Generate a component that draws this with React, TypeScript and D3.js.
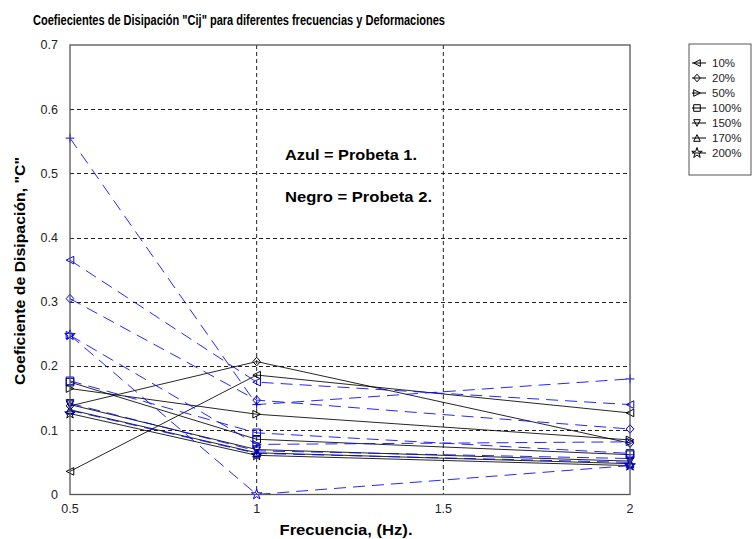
import React from 'react';
import * as d3 from 'd3';

// Frequencies (Hz) at which the dissipation coefficient was measured
const frecuencias = [0.5, 1, 2];

// Strain levels shown in the legend
const deformaciones = ['10%', '20%', '50%', '100%', '150%', '170%', '200%'];
const marcadoresLeyenda = ['tl', 'd', 'tr', 's', 'td', 'tu', 'star'];

// Probeta 2 (black, solid): one row per strain level
const probeta2 = [
  [0.036, 0.186, 0.127],
  [0.138, 0.207, 0.08],
  [0.165, 0.125, 0.085],
  [0.175, 0.086, 0.062],
  [0.14, 0.07, 0.052],
  [0.132, 0.065, 0.048],
  [0.126, 0.061, 0.045],
];
const marcadoresP2 = ['tl', 'd', 'tr', 's', 'td', 'tu', 'star'];

// Probeta 1 (blue, dashed)
const probeta1 = [
  [0.555, 0.14, 0.18],
  [0.365, 0.175, 0.14],
  [0.305, 0.147, 0.102],
  [0.248, 0.078, 0.082],
  [0.248, 0.0, 0.045],
  [0.177, 0.096, 0.064],
  [0.142, 0.068, 0.056],
  [0.131, 0.064, 0.05],
];
const marcadoresP1 = ['plus', 'tl', 'd', 'tr', 'star', 's', 'td', 'tu'];

const xTicks = [0.5, 1, 1.5, 2];
const xTickLabels = ['0.5', '1', '1.5', '2'];
const yTicks = [0, 0.1, 0.2, 0.3, 0.4, 0.5, 0.6, 0.7];
const yTickLabels = ['0', '0.1', '0.2', '0.3', '0.4', '0.5', '0.6', '0.7'];

const titulo = 'Coefiecientes de Disipación "Cij" para diferentes frecuencias y Deformaciones';
const etiquetaX = 'Frecuencia, (Hz).';
const etiquetaY = 'Coeficiente de Disipación, "C"';
const nota1 = 'Azul = Probeta 1.';
const nota2 = 'Negro = Probeta 2.';

const W = 754;
const H = 539;
const plot = { left: 70, right: 630, top: 45, bottom: 494.5 };

const x = d3.scaleLinear().domain([0.5, 2]).range([plot.left, plot.right]);
const y = d3.scaleLinear().domain([0, 0.7]).range([plot.bottom, plot.top]);

const starPath = d3.symbol().type(d3.symbolStar).size(34)() as string;

function markerPath(kind: string, r = 3.8): string {
  switch (kind) {
    case 'tl':
      return `M${r},${-r}L${-r},0L${r},${r}Z`;
    case 'tr':
      return `M${-r},${-r}L${r},0L${-r},${r}Z`;
    case 'td':
      return `M${-r},${-r}L${r},${-r}L0,${r}Z`;
    case 'tu':
      return `M${-r},${r}L${r},${r}L0,${-r}Z`;
    case 'd':
      return `M0,${-r - 0.5}L${r},0L0,${r + 0.5}L${-r},0Z`;
    case 's':
      return `M${-r},${-r}H${r}V${r}H${-r}Z`;
    case 'plus':
      return `M${-r - 0.5},0H${r + 0.5}M0,${-r - 0.5}V${r + 0.5}`;
    default:
      return starPath;
  }
}

const line = d3
  .line<number>()
  .x((_, i) => x(frecuencias[i]))
  .y((d) => y(d));

const FONT = '"Liberation Sans", Arial, sans-serif';

export default function App() {
  const negro = '#000000';
  const azul = '#0000ff';

  const serie = (vals: number[], kind: string, color: string, dashed: boolean, key: string) => (
    <g key={key}>
      <path
        d={line(vals) as string}
        fill="none"
        stroke={color}
        strokeWidth={1}
        strokeOpacity={0.85}
        strokeDasharray={dashed ? '12,7' : undefined}
      />
      {vals.map((v, i) => (
        <path
          key={i}
          d={markerPath(kind)}
          transform={`translate(${x(frecuencias[i])},${y(v)})`}
          fill="none"
          stroke={color}
          strokeWidth={1}
        />
      ))}
    </g>
  );

  const legendX = 689;
  const legendTop = 44;
  const legendStep = 15;

  return (
    <svg
      width={W}
      height={H}
      style={{ position: 'fixed', left: 0, top: 0, background: '#ffffff' }}
      fontFamily={FONT}
    >
      <rect x={0} y={0} width={W} height={H} fill="#ffffff" />

      {/* grid */}
      {xTicks
        .filter((t) => t > 0.5 && t < 2)
        .map((t) => (
          <line
            key={'gx' + t}
            x1={x(t)}
            x2={x(t)}
            y1={plot.top}
            y2={plot.bottom}
            stroke="#222"
            strokeWidth={1}
            strokeDasharray="4,3"
          />
        ))}
      {yTicks
        .filter((t) => t > 0 && t < 0.7)
        .map((t) => (
          <line
            key={'gy' + t}
            x1={plot.left}
            x2={plot.right}
            y1={Math.round(y(t)) + 0.5}
            y2={Math.round(y(t)) + 0.5}
            stroke="#222"
            strokeWidth={1}
            strokeDasharray="4,3"
          />
        ))}

      {/* series */}
      {probeta2.map((vals, i) => serie(vals, marcadoresP2[i], negro, false, 'k' + i))}
      {probeta1.map((vals, i) => serie(vals, marcadoresP1[i], azul, true, 'b' + i))}

      {/* axes frame */}
      <rect
        x={plot.left}
        y={plot.top}
        width={plot.right - plot.left}
        height={plot.bottom - plot.top}
        fill="none"
        stroke="#555"
        strokeWidth={1.3}
      />

      {/* tick labels */}
      {yTicks.map((t, i) => (
        <text
          key={'yl' + t}
          x={plot.left - 12}
          y={y(t)}
          dy="0.35em"
          textAnchor="end"
          fontSize={12.5}
          fill="#222"
        >
          {yTickLabels[i]}
        </text>
      ))}
      {xTicks.map((t, i) => (
        <text
          key={'xl' + t}
          x={x(t)}
          y={plot.bottom + 18}
          textAnchor="middle"
          fontSize={12.5}
          fill="#222"
        >
          {xTickLabels[i]}
        </text>
      ))}

      {/* titles */}
      <text
        x={33}
        y={25}
        fontSize={14}
        fontWeight="bold"
        fill="#000"
        textLength={412}
        lengthAdjust="spacingAndGlyphs"
      >
        {titulo}
      </text>
      <text
        x={346}
        y={535}
        textAnchor="middle"
        fontSize={14}
        fontWeight="bold"
        fill="#000"
        textLength={133}
        lengthAdjust="spacingAndGlyphs"
      >
        {etiquetaX}
      </text>
      <text
        transform={`translate(25,271) rotate(-90)`}
        textAnchor="middle"
        fontSize={14}
        fontWeight="bold"
        fill="#000"
        textLength={228}
        lengthAdjust="spacingAndGlyphs"
      >
        {etiquetaY}
      </text>

      {/* annotations */}
      <text
        x={285}
        y={160}
        fontSize={15}
        fontWeight="bold"
        fill="#000"
        textLength={132}
        lengthAdjust="spacingAndGlyphs"
      >
        {nota1}
      </text>
      <text
        x={285}
        y={202}
        fontSize={15}
        fontWeight="bold"
        fill="#000"
        textLength={147}
        lengthAdjust="spacingAndGlyphs"
      >
        {nota2}
      </text>

      {/* legend */}
      <rect x={legendX} y={legendTop} width={62} height={131} fill="#fff" stroke="#555" strokeWidth={1} />
      {deformaciones.map((d, i) => {
        const cy = legendTop + 19 + i * legendStep;
        return (
          <g key={'lg' + d}>
            <line x1={legendX + 3} x2={legendX + 17} y1={cy} y2={cy} stroke="#000" strokeWidth={1} />
            <path
              d={markerPath(marcadoresLeyenda[i], 3.3)}
              transform={`translate(${legendX + 8},${cy})`}
              fill="none"
              stroke="#000"
              strokeWidth={1}
            />
            <text x={legendX + 23} y={cy} dy="0.35em" fontSize={11.5} fill="#222">
              {d}
            </text>
          </g>
        );
      })}
    </svg>
  );
}
